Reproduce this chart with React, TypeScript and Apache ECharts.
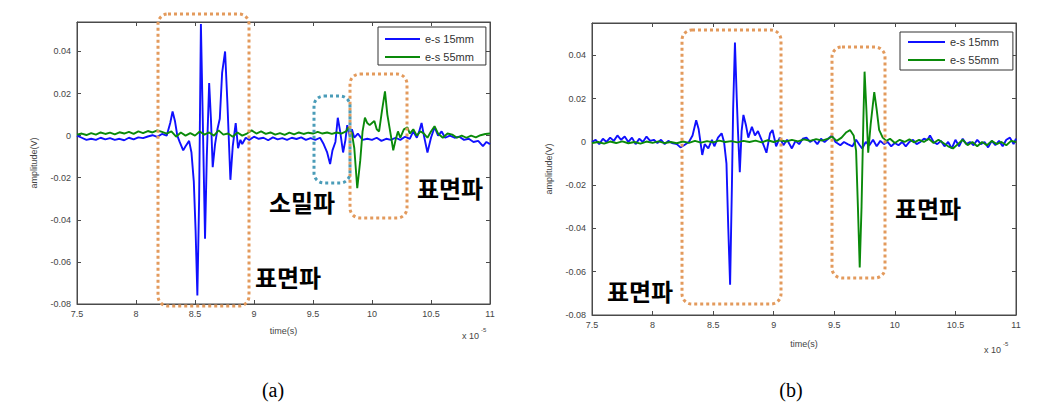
import React, { useEffect, useRef } from "react";
import * as echarts from "echarts";

// ---- data (time in units of 1e-5 s, amplitude in V) ----
const seriesNames = ["e-s 15mm", "e-s 55mm"];
const panelLabels = ["(a)", "(b)"];
const xMin = 7.5;
const xMax = 11;
const xStep = 0.5;
const yMin = -0.08;
const yStep = 0.02;
const yMaxA = 0.054;
const yMaxB = 0.055;
const annotWave = "표면파";
const annotComp = "소밀파";

const a15: [number, number][] = [
  [7.5, 0.0], [7.54, -0.001], [7.58, -0.002], [7.62, -0.0015], [7.66, -0.002], [7.7, -0.001],
  [7.74, -0.0018], [7.78, -0.0012], [7.82, -0.002], [7.86, -0.0015], [7.9, -0.0022], [7.94, -0.001],
  [7.98, -0.0018], [8.02, -0.0008], [8.06, -0.0012], [8.1, -0.0004], [8.14, 0.0002], [8.18, -0.0006],
  [8.22, 0.0008], [8.26, 0.0], [8.29, 0.006], [8.31, 0.0115], [8.33, 0.007], [8.35, 0.0],
  [8.37, -0.003], [8.4, -0.007], [8.42, -0.005], [8.45, -0.0025], [8.47, -0.008], [8.49, -0.022],
  [8.505, -0.045], [8.52, -0.076], [8.535, -0.03], [8.55, 0.053], [8.565, 0.01], [8.585, -0.049],
  [8.6, -0.01], [8.62, 0.025], [8.635, 0.008], [8.65, -0.015], [8.67, -0.004], [8.69, 0.003],
  [8.71, 0.008], [8.73, 0.03], [8.755, 0.04], [8.775, 0.015], [8.8, -0.021], [8.82, -0.005],
  [8.845, 0.006], [8.865, -0.006], [8.885, -0.002], [8.9, -0.004], [8.93, -0.001], [8.96, -0.002],
  [9.0, -0.0005], [9.04, -0.0015], [9.08, -0.001], [9.12, -0.0022], [9.16, -0.0008], [9.2, -0.0018],
  [9.24, -0.0012], [9.28, -0.002], [9.32, -0.001], [9.36, -0.0016], [9.4, -0.0008], [9.44, -0.002],
  [9.48, -0.0012], [9.52, -0.002], [9.56, -0.001], [9.59, -0.004], [9.62, -0.008], [9.645, -0.0135],
  [9.665, -0.007], [9.69, -0.003], [9.71, 0.0085], [9.73, 0.002], [9.755, -0.008], [9.775, -0.002],
  [9.79, 0.005], [9.81, 0.0], [9.83, 0.003], [9.85, -0.001], [9.88, 0.001], [9.92, -0.002],
  [9.96, -0.0015], [10.0, -0.002], [10.04, -0.001], [10.08, -0.0025], [10.12, -0.0015], [10.16, -0.002],
  [10.2, -0.001], [10.24, -0.002], [10.28, -0.0005], [10.32, -0.0015], [10.35, 0.002], [10.38, -0.001],
  [10.4, 0.002], [10.42, 0.006], [10.44, 0.0], [10.47, -0.008], [10.5, -0.001], [10.53, 0.004],
  [10.56, 0.0], [10.59, 0.002], [10.62, -0.001], [10.66, 0.0], [10.7, -0.001], [10.74, -0.0005],
  [10.78, -0.002], [10.82, -0.0015], [10.86, -0.003], [10.9, -0.0025], [10.94, -0.005], [10.97, -0.003],
  [11.0, -0.004],
];

const a55: [number, number][] = [
  [7.5, 0.0005], [7.54, 0.001], [7.58, 0.0003], [7.62, 0.0012], [7.66, 0.0005], [7.7, 0.0015],
  [7.74, 0.0008], [7.78, 0.0014], [7.82, 0.0006], [7.86, 0.0016], [7.9, 0.001], [7.94, 0.0018],
  [7.98, 0.0008], [8.02, 0.002], [8.06, 0.0012], [8.1, 0.0022], [8.14, 0.0015], [8.18, 0.0025],
  [8.22, 0.0018], [8.26, 0.001], [8.3, 0.002], [8.34, -0.0005], [8.38, 0.0015], [8.42, 0.0],
  [8.46, 0.0012], [8.5, 0.0], [8.54, 0.002], [8.58, 0.0005], [8.62, 0.0015], [8.66, 0.0],
  [8.7, 0.0025], [8.74, 0.0005], [8.78, 0.001], [8.82, -0.0005], [8.86, 0.0015], [8.9, 0.0],
  [8.94, 0.001], [8.98, 0.0025], [9.02, 0.001], [9.06, 0.002], [9.1, 0.0008], [9.14, 0.0015],
  [9.18, 0.0005], [9.22, 0.0012], [9.26, 0.0004], [9.3, 0.0014], [9.34, 0.0006], [9.38, 0.0015],
  [9.42, 0.0008], [9.46, 0.0014], [9.5, 0.001], [9.54, 0.0018], [9.58, 0.001], [9.62, 0.0015],
  [9.66, 0.0008], [9.7, 0.0015], [9.74, 0.001], [9.78, 0.002], [9.8, 0.004], [9.83, 0.001],
  [9.85, -0.006], [9.875, -0.025], [9.9, -0.012], [9.92, 0.002], [9.94, 0.0085], [9.96, 0.006],
  [9.98, 0.005], [10.0, 0.006], [10.02, 0.007], [10.04, 0.003], [10.06, 0.002], [10.085, 0.012],
  [10.11, 0.021], [10.13, 0.01], [10.16, 0.0], [10.18, -0.007], [10.2, -0.002], [10.22, 0.002],
  [10.24, -0.001], [10.27, 0.003], [10.3, 0.004], [10.32, 0.001], [10.35, 0.003], [10.38, 0.0],
  [10.41, 0.002], [10.44, 0.001], [10.47, -0.001], [10.5, 0.002], [10.53, 0.0045], [10.56, 0.001],
  [10.6, -0.001], [10.64, 0.001], [10.68, 0.0005], [10.72, -0.001], [10.76, 0.0], [10.8, -0.001],
  [10.84, 0.0], [10.88, -0.0008], [10.92, 0.0002], [10.96, 0.0008], [11.0, 0.001],
];

const b15: [number, number][] = [
  [7.5, 0.0], [7.53, 0.001], [7.56, -0.001], [7.59, 0.0015], [7.62, 0.0], [7.65, 0.002],
  [7.68, 0.0005], [7.71, 0.003], [7.74, 0.001], [7.77, 0.0025], [7.8, 0.0], [7.83, 0.002],
  [7.86, -0.001], [7.89, 0.0015], [7.92, 0.0], [7.95, 0.0025], [7.98, 0.0005], [8.01, 0.001],
  [8.04, -0.0005], [8.07, 0.001], [8.1, -0.001], [8.13, 0.0005], [8.16, -0.0005], [8.2, -0.001],
  [8.23, -0.0025], [8.26, -0.0015], [8.3, 0.0], [8.33, 0.003], [8.36, 0.01], [8.38, 0.006],
  [8.41, -0.006], [8.43, -0.001], [8.46, -0.003], [8.49, 0.001], [8.51, -0.002], [8.54, 0.002],
  [8.57, 0.004], [8.59, 0.0], [8.61, -0.01], [8.625, -0.04], [8.64, -0.066], [8.655, -0.02],
  [8.665, 0.015], [8.68, 0.046], [8.695, 0.02], [8.705, 0.005], [8.72, -0.014], [8.735, 0.005],
  [8.75, 0.0125], [8.77, 0.008], [8.79, 0.002], [8.82, 0.007], [8.845, 0.003], [8.87, 0.005],
  [8.9, 0.001], [8.94, -0.005], [8.97, 0.004], [8.99, 0.0055], [9.02, -0.002], [9.05, 0.002],
  [9.08, -0.0015], [9.11, 0.001], [9.15, -0.003], [9.18, 0.0005], [9.21, -0.001], [9.24, 0.0015],
  [9.27, 0.002], [9.3, 0.0], [9.33, 0.001], [9.36, -0.001], [9.39, 0.0015], [9.42, 0.0],
  [9.45, 0.0015], [9.48, 0.003], [9.51, 0.0], [9.55, -0.0015], [9.58, 0.0], [9.61, -0.001],
  [9.65, -0.002], [9.68, 0.001], [9.71, -0.0015], [9.73, -0.003], [9.76, 0.0], [9.79, -0.0015],
  [9.82, 0.001], [9.85, -0.002], [9.88, 0.0005], [9.91, -0.001], [9.94, 0.0], [9.97, -0.002],
  [10.0, -0.0005], [10.03, -0.0015], [10.06, 0.0], [10.09, -0.002], [10.12, 0.0], [10.15, 0.001],
  [10.18, -0.001], [10.21, 0.0], [10.24, 0.0015], [10.27, 0.001], [10.29, 0.003], [10.32, 0.0],
  [10.35, -0.001], [10.38, 0.0005], [10.41, -0.002], [10.44, 0.0], [10.47, -0.003], [10.5, 0.001],
  [10.53, -0.002], [10.56, 0.0015], [10.59, -0.001], [10.62, 0.0], [10.65, -0.0015], [10.68, 0.001],
  [10.71, -0.001], [10.74, 0.0], [10.77, -0.0025], [10.8, 0.0005], [10.83, -0.0015], [10.86, 0.0005],
  [10.89, -0.002], [10.92, 0.001], [10.95, 0.002], [10.98, -0.001], [11.0, 0.0015],
];

const b55: [number, number][] = [
  [7.5, -0.0005], [7.55, 0.0], [7.6, -0.0008], [7.65, 0.0002], [7.7, -0.0005], [7.75, 0.0003],
  [7.8, -0.0006], [7.85, 0.0], [7.9, -0.0008], [7.95, 0.0002], [8.0, -0.0004], [8.05, 0.0003],
  [8.1, -0.0005], [8.15, 0.0], [8.2, -0.0006], [8.25, 0.0002], [8.3, -0.0004], [8.35, 0.0005],
  [8.4, -0.0003], [8.45, 0.0004], [8.5, -0.0002], [8.55, 0.0006], [8.6, 0.0], [8.65, 0.0004],
  [8.7, -0.0002], [8.75, 0.0005], [8.8, 0.0], [8.85, 0.0006], [8.9, -0.0002], [8.95, 0.0008],
  [9.0, 0.0], [9.05, 0.0008], [9.1, 0.0002], [9.15, 0.001], [9.2, 0.0003], [9.25, 0.0012],
  [9.3, 0.0005], [9.35, 0.0013], [9.4, 0.0006], [9.45, 0.0015], [9.48, 0.0025], [9.52, 0.0005],
  [9.56, 0.002], [9.6, 0.0045], [9.63, 0.0055], [9.66, 0.003], [9.68, -0.004], [9.695, -0.03],
  [9.71, -0.058], [9.725, -0.03], [9.74, 0.01], [9.75, 0.0325], [9.765, 0.015], [9.78, -0.005],
  [9.8, 0.008], [9.83, 0.023], [9.85, 0.015], [9.87, 0.0056], [9.9, 0.002], [9.93, 0.0005],
  [9.96, 0.0015], [10.0, -0.0005], [10.04, 0.001], [10.08, 0.0], [10.12, 0.0012], [10.16, -0.0002],
  [10.2, 0.001], [10.24, 0.0], [10.28, 0.0015], [10.32, -0.0005], [10.36, 0.001], [10.4, -0.0005],
  [10.44, -0.002], [10.48, -0.003], [10.52, -0.001], [10.56, 0.001], [10.6, -0.0015], [10.64, 0.0],
  [10.68, -0.002], [10.72, 0.0], [10.76, -0.0015], [10.8, 0.0005], [10.84, -0.001], [10.88, 0.0],
  [10.92, -0.0015], [10.96, 0.0005], [11.0, 0.0],
];

// ---- styles ----
const BLUE = "#1010ff";
const GREEN = "#0a8a0a";
const ORANGE = "#E39A5C";
const TEAL = "#4A9CB8";
const AXIS = "#4a4a4a";
const LABEL = "#444";
const SANS = "'Liberation Sans', Arial, sans-serif";
const KFONT = "bold 24px 'Noto Sans CJK KR', sans-serif";

const grids = [
  { left: 77, top: 22, width: 413, height: 282 },
  { left: 592, top: 23, width: 424, height: 292 },
];

const tickStyle = { show: true, inside: true, length: 4, lineStyle: { color: AXIS } };
const lineStyleAxis = { show: true, onZero: false, lineStyle: { color: AXIS, width: 1 } };

function xAxisMain(gridIndex: number, nameGap: number) {
  return {
    type: "value",
    gridIndex,
    position: "bottom",
    min: xMin,
    max: xMax,
    interval: xStep,
    name: "time(s)",
    nameLocation: "middle",
    nameGap,
    nameTextStyle: { fontSize: 9, color: LABEL, fontFamily: SANS },
    axisLine: lineStyleAxis,
    axisTick: tickStyle,
    axisLabel: { fontSize: 9, color: LABEL, margin: 5, fontFamily: SANS, formatter: (v: number) => String(+v.toFixed(2)) },
    splitLine: { show: false },
  };
}
function xAxisTop(gridIndex: number) {
  return {
    type: "value",
    gridIndex,
    position: "top",
    min: xMin,
    max: xMax,
    interval: xStep,
    axisLine: lineStyleAxis,
    axisTick: tickStyle,
    axisLabel: { show: false },
    splitLine: { show: false },
  };
}
function yAxisMain(gridIndex: number, max: number) {
  return {
    type: "value",
    gridIndex,
    position: "left",
    min: yMin,
    max,
    interval: yStep,
    name: "amplitude(V)",
    nameLocation: "middle",
    nameGap: 39,
    nameTextStyle: { fontSize: 9, color: LABEL, fontFamily: SANS },
    axisLine: lineStyleAxis,
    axisTick: tickStyle,
    axisLabel: {
      fontSize: 9,
      color: LABEL,
      margin: 6,
      fontFamily: SANS,
      showMaxLabel: false,
      formatter: (v: number) => (Math.abs(v) < 1e-9 ? "0" : v.toFixed(2)),
    },
    splitLine: { show: false },
  };
}
function yAxisRight(gridIndex: number, max: number) {
  return {
    type: "value",
    gridIndex,
    position: "right",
    min: yMin,
    max,
    interval: yStep,
    axisLine: lineStyleAxis,
    axisTick: tickStyle,
    axisLabel: { show: false },
    splitLine: { show: false },
  };
}

function line(name: string, data: [number, number][], axisIdx: number, color: string) {
  return {
    type: "line",
    name,
    data,
    xAxisIndex: axisIdx,
    yAxisIndex: axisIdx,
    color,
    symbol: "none",
    smooth: false,
    lineStyle: { color, width: 1.9 },
    emphasis: { disabled: true },
  };
}

function dotBox(x: number, y: number, w: number, h: number, color: string) {
  return {
    type: "rect",
    z: 100,
    shape: { x, y, width: w, height: h, r: 10 },
    style: { fill: "none", stroke: color, lineWidth: 3, lineDash: [3, 3] },
  };
}
function ktext(text: string, cx: number, cy: number) {
  return {
    type: "text",
    z: 101,
    x: cx,
    y: cy,
    style: { text, font: KFONT, fill: "#000", align: "center", verticalAlign: "middle" },
  };
}
function exponent(x: number, y: number) {
  return [
    { type: "text", z: 50, x, y, style: { text: "x 10", font: `9px ${SANS}`, fill: LABEL, align: "left", verticalAlign: "middle" } },
    { type: "text", z: 50, x: x + 19, y: y - 6, style: { text: "-5", font: `6px ${SANS}`, fill: LABEL, align: "left", verticalAlign: "middle" } },
  ];
}
function legend(left: number, top: number, padding: number[], itemWidth: number) {
  return {
    data: seriesNames,
    orient: "vertical",
    left,
    top,
    padding,
    itemGap: 6,
    itemWidth,
    itemHeight: 2,
    icon: "rect",
    backgroundColor: "#fff",
    borderColor: "#333",
    borderWidth: 1,
    selectedMode: false,
    textStyle: { fontSize: 11, color: "#333", fontFamily: SANS, lineHeight: 12 },
  };
}

export default function App() {
  const ref = useRef<HTMLDivElement>(null);
  useEffect(() => {
    if (!ref.current) return;
    const chart = echarts.init(ref.current, undefined, { renderer: "svg" });
    chart.setOption({
      animation: false,
      backgroundColor: "#fff",
      textStyle: { fontFamily: SANS },
      grid: grids.map((g) => ({ ...g, show: true, borderColor: AXIS, borderWidth: 1, backgroundColor: "transparent", containLabel: false })),
      legend: [legend(378, 27, [6, 12, 2, 7], 35), legend(900, 32, [4, 14, 4, 8], 37)],
      xAxis: [xAxisMain(0, 22), xAxisMain(1, 24), xAxisTop(0), xAxisTop(1)],
      yAxis: [yAxisMain(0, yMaxA), yAxisMain(1, yMaxB), yAxisRight(0, yMaxA), yAxisRight(1, yMaxB)],
      series: [
        line(seriesNames[0], a15, 0, BLUE),
        line(seriesNames[1], a55, 0, GREEN),
        line(seriesNames[0], b15, 1, BLUE),
        line(seriesNames[1], b55, 1, GREEN),
      ],
      graphic: [
        dotBox(158, 14, 91, 292, ORANGE),
        dotBox(350, 74, 57, 144, ORANGE),
        dotBox(314, 96, 36, 87, TEAL),
        dotBox(682, 30, 99, 274, ORANGE),
        dotBox(832, 47, 53, 231, ORANGE),
        ktext(annotComp, 302, 201),
        ktext(annotWave, 450, 187),
        ktext(annotWave, 288, 276),
        ktext(annotWave, 640, 290),
        ktext(annotWave, 928, 207),
        ...exponent(462, 336),
        ...exponent(984, 350),
        {
          type: "text",
          x: 273,
          y: 390,
          style: { text: panelLabels[0], font: "20px 'Liberation Serif', 'Times New Roman', serif", fill: "#000", align: "center", verticalAlign: "middle" },
        },
        {
          type: "text",
          x: 791,
          y: 390,
          style: { text: panelLabels[1], font: "20px 'Liberation Serif', 'Times New Roman', serif", fill: "#000", align: "center", verticalAlign: "middle" },
        },
      ],
    });
    return () => chart.dispose();
  }, []);
  return (
    <div
      ref={ref}
      style={{ position: "fixed", left: 0, top: 0, width: 1037, height: 410, background: "#fff" }}
    />
  );
}
